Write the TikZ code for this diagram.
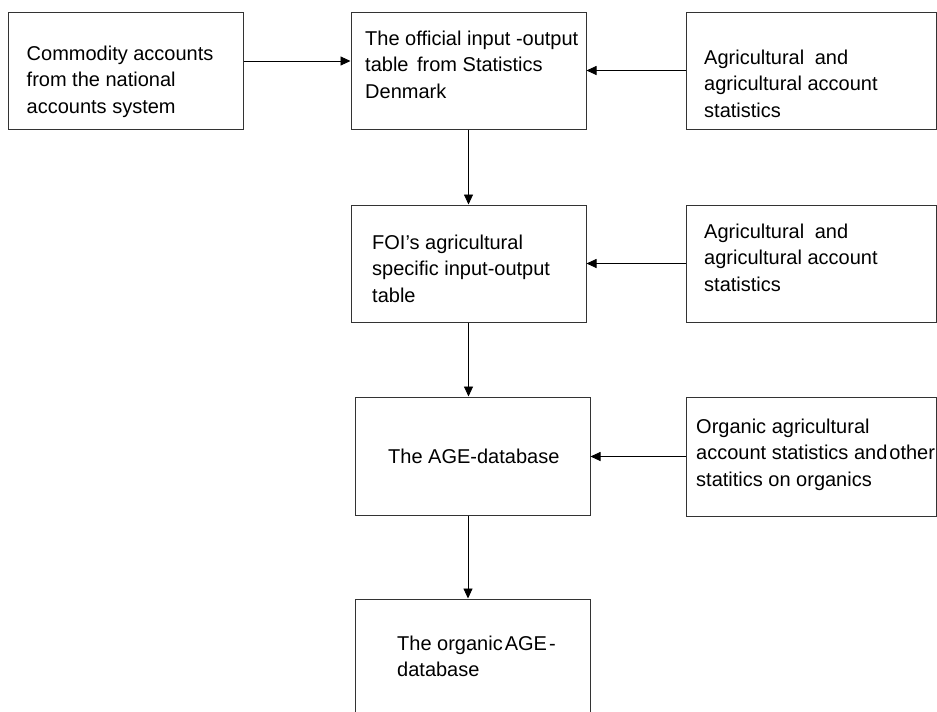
\documentclass[tikz,border=0pt]{standalone}
\usepackage{fontspec}
\setmainfont{Liberation Sans}
\usetikzlibrary{arrows.meta}
\begin{document}
\begin{tikzpicture}[x=1pt,y=-1pt,
  box/.style={draw=black!80, line width=1pt, rectangle, inner sep=0pt, minimum width=235pt, minimum height=117pt},
  wbox/.style={box, minimum width=250pt},
  lbl/.style={anchor=base west, inner sep=0pt, align=left, font=\fontsize{20}{26.5}\selectfont},
  arr/.style={-{Triangle[length=10pt,width=9pt]}, line width=0.9pt, black}]
\fill[white] (0,0) rectangle (937,712);
\useasboundingbox (0,0) rectangle (937,712);
% boxes
\node[box] (b1) at (125.5,70.5) {};
\node[box] (b2) at (468.5,70.5) {};
\node[wbox] (b3) at (811,70.5) {};
\node[box] (b4) at (468.5,263.5) {};
\node[wbox] (b5) at (811,263.5) {};
\node[box, minimum height=118.5pt] (b6) at (472.5,456.25) {};
\node[wbox, minimum height=119pt] (b7) at (811,456.5) {};
\node[box] (b8) at (472.5,657.5) {};
% texts (anchor = baseline of last line)
\node[lbl] (t1) at (26.5,113) {Commodity accounts\\from the national\\accounts system};
\node[lbl] (t2) at (365,98) {The official input -output\\table\hspace{0.15em} from Statistics\\Denmark};
\node[lbl] (t3) at (704,117) {Agricultural\hspace{0.25em} and\\agricultural account\\statistics};
\node[lbl] (t4) at (372,302) {FOI’s agricultural\\specific input-output\\table};
\node[lbl] (t5) at (704,291) {Agricultural\hspace{0.25em} and\\agricultural account\\statistics};
\node[lbl] (t6) at (388,463) {The AGE-database};
\node[lbl] (t7) at (696,486) {Organic agricultural\\account statistics and\hspace{0.1em}other\\statitics on organics};
\node[lbl] (t8) at (397,676.5) {The organic\hspace{0.1em}AGE\hspace{0.1em}-\\database};
% connectors
\draw[arr] ([yshift=9.5pt]b1.east) -- ([yshift=9.5pt]b2.west);
\draw[arr] (b3.west) -- (b2.east);
\draw[arr] (b2.south) -- (b4.north);
\draw[arr] (b5.west) -- (b4.east);
\draw[arr] (b4.south) -- (b4.south |- b6.north);
\draw[arr] (b7.west) -- (b7.west -| b6.east);
\draw[arr] ([xshift=-4.5pt]b6.south) -- ([xshift=-4.5pt]b8.north);
\end{tikzpicture}
\end{document}
